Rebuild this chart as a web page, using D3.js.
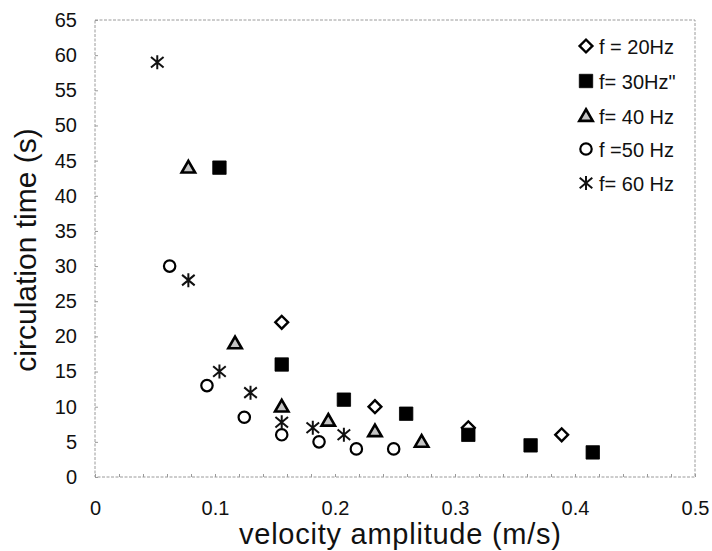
<!DOCTYPE html>
<html>
<head>
<meta charset="utf-8">
<script src="https://cdn.jsdelivr.net/npm/d3@7"></script>
<style>
  html, body { margin: 0; padding: 0; background: #fff; }
  svg { display: block; font-family: "Liberation Sans", Arial, Helvetica, sans-serif; }
</style>
</head>
<body>
<svg id="chart" width="712" height="551"></svg>
<script>
// ---- data ----
const seriesNames = ["f = 20Hz", "f= 30Hz\"", "f= 40 Hz", "f =50 Hz", "f= 60 Hz"];
const seriesShapes = ["diamond", "square", "triangle", "circle", "asterisk"];

const velocity20 = [0.1556, 0.2333, 0.3111, 0.3889];
const time20     = [22, 10, 7, 6];

const velocity30 = [0.1037, 0.1556, 0.2074, 0.2593, 0.3111, 0.3630, 0.4148];
const time30     = [44, 16, 11, 9, 6, 4.5, 3.5];

const velocity40 = [0.0778, 0.1167, 0.1556, 0.1944, 0.2333, 0.2722];
const time40     = [44, 19, 10, 8, 6.5, 5];

const velocity50 = [0.0622, 0.0933, 0.1244, 0.1556, 0.1867, 0.2178, 0.2489];
const time50     = [30, 13, 8.5, 6, 5, 4, 4];

const velocity60 = [0.0519, 0.0778, 0.1037, 0.1296, 0.1556, 0.1815, 0.2074];
const time60     = [59, 28, 15, 12, 7.8, 7, 6];

const xTickValues = [0, 0.1, 0.2, 0.3, 0.4, 0.5];
const xTickLabels = ["0", "0.1", "0.2", "0.3", "0.4", "0.5"];
const yTickValues = [0, 5, 10, 15, 20, 25, 30, 35, 40, 45, 50, 55, 60, 65];
const yTickLabels = ["0", "5", "10", "15", "20", "25", "30", "35", "40", "45", "50", "55", "60", "65"];
const xMinorTicks = [0, 0.02, 0.04, 0.06, 0.08, 0.1, 0.12, 0.14, 0.16, 0.18, 0.2, 0.22, 0.24, 0.26, 0.28, 0.3, 0.32, 0.34, 0.36, 0.38, 0.4, 0.42, 0.44, 0.46, 0.48, 0.5];

const xTitle = "velocity amplitude (m/s)";
const yTitle = "circulation time (s)";

// ---- layout ----
const svg = d3.select("#chart");
const plotLeft = 95, plotRight = 695, plotTop = 20, plotBottom = 477;

const x = d3.scaleLinear().domain([0, 0.5]).range([plotLeft, plotRight]);
const y = d3.scaleLinear().domain([0, 65]).range([plotBottom, plotTop]);

const frameColor = "#9a9a9a";

// plot frame (dotted gray)
svg.append("rect")
  .attr("x", plotLeft).attr("y", plotTop)
  .attr("width", plotRight - plotLeft).attr("height", plotBottom - plotTop)
  .attr("fill", "none")
  .attr("stroke", frameColor)
  .attr("stroke-width", 1)
  .attr("stroke-dasharray", "3,1.5");

// x axis minor ticks (inside)
const xMinor = svg.append("g").attr("transform", `translate(0,${plotBottom})`)
  .call(d3.axisBottom(x).tickValues(xMinorTicks).tickSize(-3).tickFormat(""));
xMinor.select(".domain").remove();
xMinor.selectAll("line").attr("stroke", frameColor);

// x axis labels
const xAxis = svg.append("g").attr("transform", `translate(0,${plotBottom})`)
  .call(d3.axisBottom(x).tickValues(xTickValues).tickSize(0).tickPadding(24)
    .tickFormat((d, i) => xTickLabels[i]));
xAxis.select(".domain").remove();
xAxis.selectAll("text").attr("font-size", 20).attr("fill", "#111")
  .attr("font-family", "'Liberation Sans', Arial, sans-serif");

// y axis
const yAxis = svg.append("g").attr("transform", `translate(${plotLeft},0)`)
  .call(d3.axisLeft(y).tickValues(yTickValues).tickSize(-3).tickPadding(18)
    .tickFormat((d, i) => yTickLabels[i]));
yAxis.select(".domain").remove();
yAxis.selectAll("line").attr("stroke", frameColor);
yAxis.selectAll("text").attr("font-size", 20).attr("fill", "#111")
  .attr("font-family", "'Liberation Sans', Arial, sans-serif");

// titles
svg.append("text")
  .attr("x", (plotLeft + plotRight) / 2 + 5).attr("y", 544)
  .attr("text-anchor", "middle")
  .attr("font-size", 29).attr("fill", "#111")
  .attr("textLength", 322).attr("lengthAdjust", "spacing")
  .text(xTitle);

svg.append("text")
  .attr("transform", `translate(36,250) rotate(-90)`)
  .attr("text-anchor", "middle")
  .attr("font-size", 30).attr("fill", "#111")
  .text(yTitle);

// ---- markers ----
function drawMarker(g, shape) {
  if (shape === "diamond") {
    g.append("path").attr("d", d3.symbol(d3.symbolSquare, 82)())
      .attr("transform", "rotate(45)")
      .attr("fill", "#fff").attr("stroke", "#000").attr("stroke-width", 2.4);
  } else if (shape === "square") {
    g.append("path").attr("d", d3.symbol(d3.symbolSquare, 180)())
      .attr("fill", "#000").attr("stroke", "#000").attr("stroke-width", 0.8);
  } else if (shape === "triangle") {
    g.append("path").attr("d", d3.symbol(d3.symbolTriangle, 78)())
      .attr("transform", "translate(0,1)")
      .attr("fill", "#c4c4c4").attr("stroke", "#000").attr("stroke-width", 2.6)
      .attr("stroke-linejoin", "miter");
  } else if (shape === "circle") {
    g.append("circle").attr("r", 5.7)
      .attr("fill", "#fff").attr("stroke", "#000").attr("stroke-width", 2.2);
  } else if (shape === "asterisk") {
    const p = d3.path();
    const r = 7;
    p.moveTo(0, -r); p.lineTo(0, r);
    p.moveTo(-r * 0.9, -r * 0.75); p.lineTo(r * 0.9, r * 0.75);
    p.moveTo(-r * 0.9, r * 0.75); p.lineTo(r * 0.9, -r * 0.75);
    g.append("path").attr("d", p.toString())
      .attr("fill", "none").attr("stroke", "#111").attr("stroke-width", 2);
  }
}

const seriesX = [velocity20, velocity30, velocity40, velocity50, velocity60];
const seriesY = [time20, time30, time40, time50, time60];

seriesX.forEach((xs, si) => {
  const pts = xs.map((v, i) => [v, seriesY[si][i]]);
  const grp = svg.append("g").attr("class", "series-" + si);
  grp.selectAll("g.pt").data(pts).enter().append("g")
    .attr("class", "pt")
    .attr("transform", d => `translate(${x(d[0])},${y(d[1])})`)
    .each(function() { drawMarker(d3.select(this), seriesShapes[si]); });
});

// ---- legend ----
const legendMarkerY = [46, 81, 116, 149, 183];
const legend = svg.append("g");
seriesNames.forEach((name, i) => {
  const g = legend.append("g").attr("transform", `translate(586,${legendMarkerY[i]})`);
  drawMarker(g, seriesShapes[i]);
  legend.append("text")
    .attr("x", 599).attr("y", legendMarkerY[i] + 7.5)
    .attr("font-size", 20).attr("fill", "#111")
    .text(name);
});
</script>
</body>
</html>
